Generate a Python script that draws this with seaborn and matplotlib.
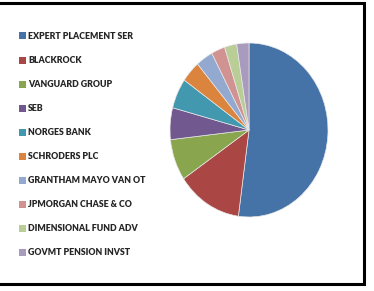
import matplotlib
matplotlib.use("Agg")
import matplotlib.pyplot as plt
from matplotlib.patches import Patch, Rectangle
import seaborn as sns

# holders and their share of the stake (%)
holders = [
    "EXPERT PLACEMENT SER",
    "BLACKROCK",
    "VANGUARD GROUP",
    "SEB",
    "NORGES BANK",
    "SCHRODERS PLC",
    "GRANTHAM MAYO VAN OT",
    "JPMORGAN CHASE & CO",
    "DIMENSIONAL FUND ADV",
    "GOVMT PENSION INVST",
]
shares = [52.2, 13.4, 7.7, 5.9, 5.6, 4.0, 3.5, 2.8, 2.5, 2.5]
colors = ["#4572A7", "#AA4643", "#89A54E", "#71588F", "#4198AF",
          "#DB843D", "#93A9CF", "#D19392", "#B9CD96", "#A99BBD"]

sns.set_theme(style="white")
plt.rcParams["font.family"] = ["Lato", "DejaVu Sans"]

fig = plt.figure(figsize=(3.74, 2.91), dpi=100)
fig.patch.set_facecolor("white")

ax = fig.add_axes([170 / 374, 1 - 217 / 291, 158 / 374, 174 / 291])
ax.pie(shares, colors=colors, startangle=90, counterclock=False,
       wedgeprops=dict(edgecolor="#e8e8e8", linewidth=0.5))
ax.set_aspect("auto")
ax.set_xlim(-1.0, 1.0)
ax.set_ylim(-1.0, 1.0)
ax.axis("off")

handles = [Patch(facecolor=c, edgecolor="none") for c in colors]
fig.legend(handles, holders, loc="upper left", bbox_to_anchor=(19 / 374, 1 - 32 / 291),
           frameon=False, prop=dict(weight="heavy", size=6.3),
           handlelength=0.85, handleheight=0.85, handletextpad=0.2,
           labelspacing=1.72, borderaxespad=0, borderpad=0)

# outer black frame of the chart area (left edge falls off the image)
fig.patches.append(Rectangle((-0.02, 1 - 284 / 291), (363 + 8) / 374, 281 / 291,
                             transform=fig.transFigure, fill=False,
                             edgecolor="black", linewidth=2.2))

fig.savefig("out.png", dpi=100)
